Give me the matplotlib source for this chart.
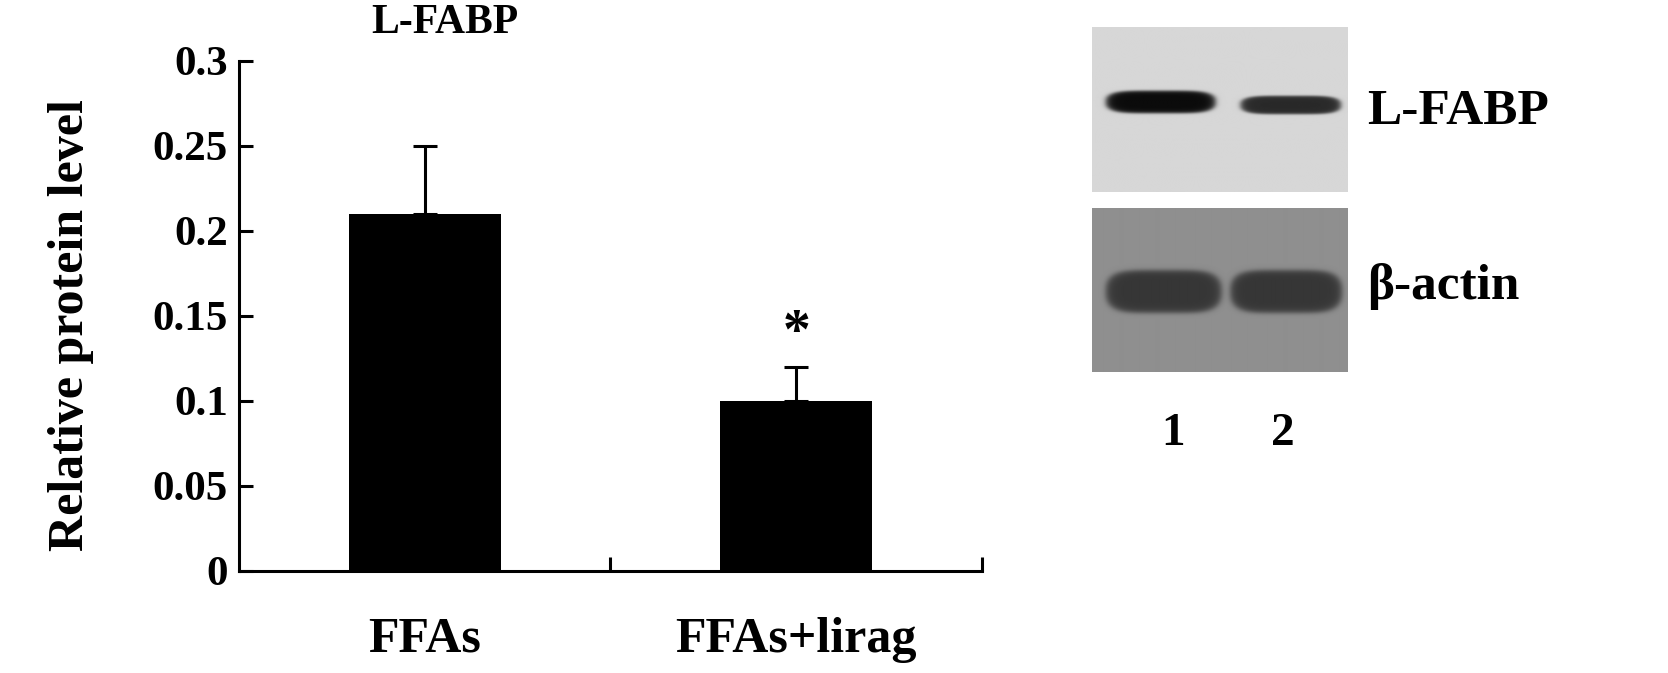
import matplotlib
matplotlib.use('Agg')
import matplotlib.pyplot as plt
import numpy as np

# bar chart data
groups = ['FFAs', 'FFAs+lirag']
levels = [0.21, 0.10]
err_up = [0.04, 0.02]
signif = ['', '*']
yticks = [0, 0.05, 0.1, 0.15, 0.2, 0.25, 0.3]
ytick_labels = ['0', '0.05', '0.1', '0.15', '0.2', '0.25', '0.3']

# western blot band strengths (lane 1, lane 2)
lanes = ['1', '2']
lfabp_band = [1.0, 0.85]
actin_band = [1.0, 1.0]

plt.rcParams['font.family'] = ['Liberation Serif', 'DejaVu Serif']
plt.rcParams['font.weight'] = 'bold'

fig = plt.figure(figsize=(16.68, 6.73), dpi=100)
ax = fig.add_axes([0.1433, 0.1516, 0.4454, 0.7578])

x = np.arange(len(groups))
ax.bar(x, levels, width=0.41, color='black', zorder=2)
ax.errorbar(x, levels, yerr=[np.zeros(len(levels)), err_up], fmt='none',
            ecolor='black', elinewidth=2.2, capsize=8.5, capthick=2.2, zorder=1)
for i in range(len(groups)):
    if signif[i]:
        ax.text(x[i], levels[i] + err_up[i] + 0.004, signif[i], ha='center',
                va='bottom', fontsize=40, fontweight='bold')

ax.set_xlim(-0.5, 1.5)
ax.set_ylim(0, 0.3)
for s in ['top', 'right']:
    ax.spines[s].set_visible(False)
for s in ['left', 'bottom']:
    ax.spines[s].set_linewidth(2.2)
ax.set_yticks(yticks)
ax.set_yticklabels(ytick_labels)
ax.tick_params(axis='y', direction='in', length=10, width=2.2, pad=8, labelsize=31)
ax.set_xticks([0.5, 1.5])
ax.set_xticklabels(['', ''])
ax.tick_params(axis='x', which='major', direction='in', length=10, width=2.2)
ax.set_xticks(x, minor=True)
ax.set_xticklabels(groups, minor=True)
ax.tick_params(axis='x', which='minor', length=0, pad=33, labelsize=36)

fig.text(0.2668, 0.966, 'L-FABP', ha='center', va='center', fontsize=30, fontweight='bold')
fig.text(0.0425, 0.517, 'Relative protein level', ha='center', va='center',
         rotation=90, fontsize=36, fontweight='bold')


def blot(strength, bg, dark, half_h, yc, lane_x):
    h, w = 165, 255
    yy, xx = np.mgrid[0:h, 0:w]
    img = np.full((h, w), bg, dtype=float)
    for k, (x0, x1) in enumerate(lane_x):
        xc, hw = (x0 + x1) / 2, (x1 - x0) / 2
        r = np.abs((xx - xc) / hw) ** 5 + np.abs((yy - yc[k]) / half_h[k]) ** 2.5
        d = 1 / (1 + np.exp((r - 1) / 0.18))
        img = img - (bg - dark) * strength[k] * d
    return img


top = blot(lfabp_band, 0.84, 0.04, [11, 9], [75, 78], [(14, 122), (148, 247)])
bot = blot(actin_band, 0.56, 0.21, [21, 21], [84, 84], [(14, 128), (138, 248)])

ax_top = fig.add_axes([0.6547, 0.7147, 0.1529, 0.2452])
ax_top.imshow(top, cmap='gray', vmin=0, vmax=1, aspect='auto', interpolation='bilinear')
ax_top.axis('off')
ax_bot = fig.add_axes([0.6547, 0.4473, 0.1529, 0.2437])
ax_bot.imshow(bot, cmap='gray', vmin=0, vmax=1, aspect='auto', interpolation='bilinear')
ax_bot.axis('off')

fig.text(0.8196, 0.8336, 'L-FABP', ha='left', va='center', fontsize=37, fontweight='bold')
fig.text(0.8196, 0.5736, 'β-actin', ha='left', va='center', fontsize=37, fontweight='bold')
for xf, lab in zip([0.7032, 0.7692], lanes):
    fig.text(xf, 0.355, lab, ha='center', va='center', fontsize=34, fontweight='bold')

fig.savefig('out.png', dpi=100)
